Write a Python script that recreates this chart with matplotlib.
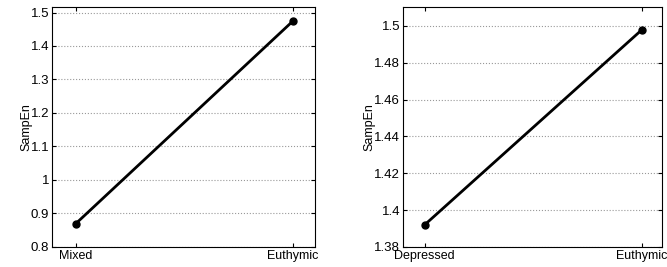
import matplotlib.pyplot as plt
from matplotlib.ticker import FuncFormatter

plt.rcParams["font.family"] = ["Liberation Sans", "DejaVu Sans"]
plt.rcParams["font.size"] = 9

mixed_labels = ["Mixed", "Euthymic"]
mixed_values = [0.87, 1.475]
mixed_yticks = [0.8, 0.9, 1.0, 1.1, 1.2, 1.3, 1.4, 1.5]

dep_labels = ["Depressed", "Euthymic"]
dep_values = [1.392, 1.498]
dep_yticks = [1.38, 1.40, 1.42, 1.44, 1.46, 1.48, 1.50]

fmt = FuncFormatter(lambda v, p: "%g" % round(v, 4))

fig = plt.figure(figsize=(6.67, 2.67), dpi=100)
ax1 = fig.add_axes([0.078, 0.075, 0.394, 0.897])
ax2 = fig.add_axes([0.604, 0.075, 0.388, 0.897])

panels = [
    (ax1, mixed_labels, mixed_values, mixed_yticks, (0.8, 1.515), (0.89, 2.1)),
    (ax2, dep_labels, dep_values, dep_yticks, (1.38, 1.51), (0.9, 2.09)),
]

for ax, labels, values, yticks, ylim, xlim in panels:
    x = range(1, len(values) + 1)
    ax.plot(x, values, color="black", linewidth=2, marker="o", markersize=5)
    ax.set_xticks(list(x))
    ax.set_xticklabels(labels)
    ax.set_yticks(yticks)
    ax.yaxis.set_major_formatter(fmt)
    ax.set_ylim(*ylim)
    ax.set_xlim(*xlim)
    ax.set_ylabel("SampEn", labelpad=-1)
    ax.yaxis.grid(True, linestyle=":", color="#999999", linewidth=0.8)
    ax.tick_params(direction="in", length=3, top=True, right=True, pad=2)
    ax.tick_params(axis="y", labelsize=9.5)
    for s in ax.spines.values():
        s.set_linewidth(0.8)

plt.savefig("out.png", dpi=100)
